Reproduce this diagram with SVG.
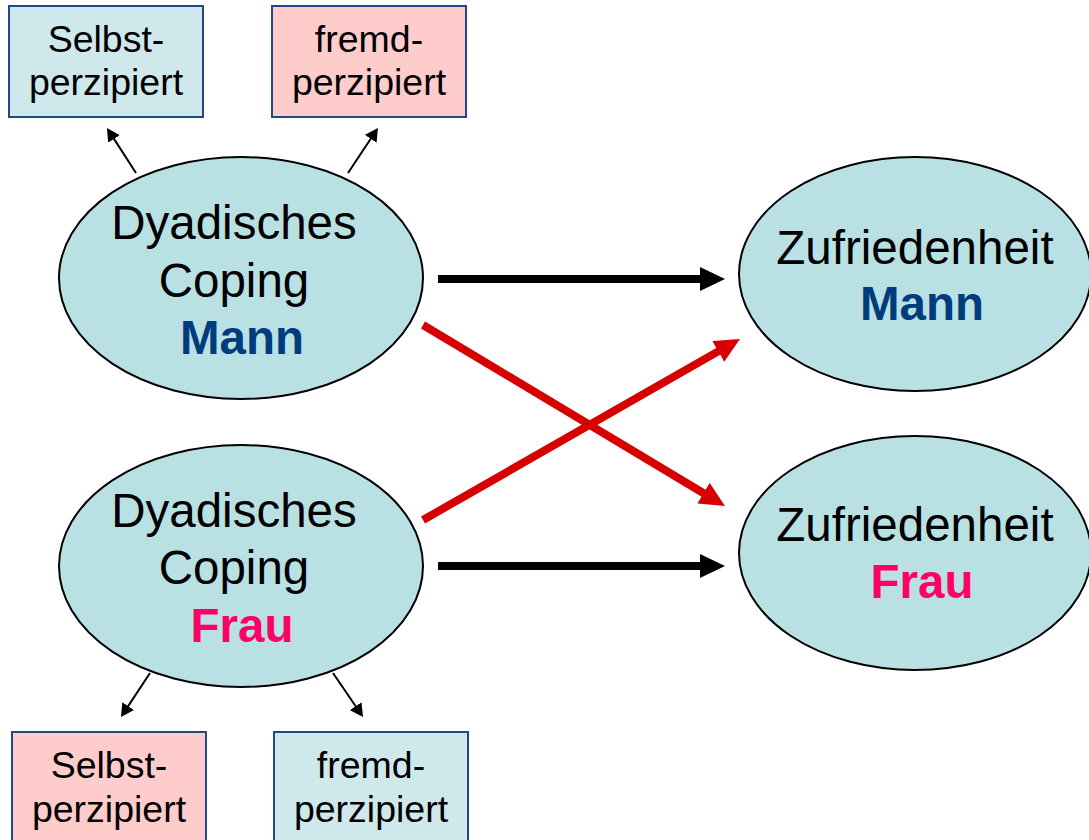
<svg xmlns="http://www.w3.org/2000/svg" width="1089" height="840" viewBox="0 0 1089 840">
<style>
.ell{fill:#b9e0e3;stroke:#000;stroke-width:2}
.boxb{fill:#cfe8eb;stroke:#1f4a85;stroke-width:2}
.boxp{fill:#ffcccc;stroke:#1f4a85;stroke-width:2}
.t{font-family:"Liberation Sans",Arial,sans-serif;text-anchor:middle;fill:#000}
.big{font-size:47.5px}
.sm{font-size:37.5px}
.mann{fill:#003c7d;font-weight:bold}
.frau{fill:#ff0066;font-weight:bold}
.blk{stroke:#000;stroke-width:8;fill:none}
.red{stroke:#d60000;stroke-width:8;fill:none}
.thin{stroke:#000;stroke-width:2;fill:none}
</style>
<defs>
<marker id="hb" markerUnits="userSpaceOnUse" markerWidth="25" markerHeight="24" refX="5" refY="12" orient="auto"><path d="M0,0 L25,12 L0,24 z" fill="#000"/></marker>
<marker id="hr" markerUnits="userSpaceOnUse" markerWidth="25" markerHeight="24" refX="5" refY="12" orient="auto"><path d="M0,0 L25,12 L0,24 z" fill="#d60000"/></marker>
<marker id="hs" markerUnits="userSpaceOnUse" markerWidth="13" markerHeight="14" refX="3" refY="7" orient="auto"><path d="M0,0 L13,7 L0,14 z" fill="#000"/></marker>
</defs>
<rect width="1089" height="840" fill="#fff"/>
<g id="box-tl"><rect class="boxb" x="9" y="6" width="194" height="111"/><text class="t sm" x="106" y="52">Selbst-</text><text class="t sm" x="106" y="95">perzipiert</text></g>
<g id="box-tr"><rect class="boxp" x="272" y="6" width="194" height="111"/><text class="t sm" x="369" y="52">fremd-</text><text class="t sm" x="369" y="95">perzipiert</text></g>
<g id="box-bl"><rect class="boxp" x="12" y="732" width="194" height="111"/><text class="t sm" x="109" y="778">Selbst-</text><text class="t sm" x="109" y="822">perzipiert</text></g>
<g id="box-br"><rect class="boxb" x="274" y="732" width="194" height="111"/><text class="t sm" x="371" y="778">fremd-</text><text class="t sm" x="371" y="822">perzipiert</text></g>
<g id="dc-mann"><ellipse class="ell" cx="241" cy="278" rx="182" ry="121"/><text class="t big" x="234" y="239">Dyadisches</text><text class="t big" x="234" y="297">Coping</text><text class="t big mann" x="242" y="354">Mann</text></g>
<g id="dc-frau"><ellipse class="ell" cx="241" cy="566" rx="182" ry="121"/><text class="t big" x="234" y="527">Dyadisches</text><text class="t big" x="234" y="584">Coping</text><text class="t big frau" x="242" y="642">Frau</text></g>
<g id="z-mann"><ellipse class="ell" cx="915" cy="274" rx="176" ry="117"/><text class="t big" x="915" y="264">Zufriedenheit</text><text class="t big mann" x="922" y="320">Mann</text></g>
<g id="z-frau"><ellipse class="ell" cx="915" cy="553" rx="176" ry="117"/><text class="t big" x="915" y="541">Zufriedenheit</text><text class="t big frau" x="922" y="598">Frau</text></g>
<g id="connectors">
<line class="blk" x1="438" y1="279" x2="705" y2="279" marker-end="url(#hb)"/>
<line class="blk" x1="438" y1="566" x2="705" y2="566" marker-end="url(#hb)"/>
<line class="red" x1="423" y1="325" x2="707.8" y2="495.7" marker-end="url(#hr)"/>
<line class="red" x1="423" y1="520" x2="722.6" y2="348.9" marker-end="url(#hr)"/>
<line class="thin" x1="136" y1="173" x2="112.4" y2="136.4" marker-end="url(#hs)"/>
<line class="thin" x1="348" y1="173" x2="372.4" y2="136.3" marker-end="url(#hs)"/>
<line class="thin" x1="150" y1="673" x2="126.5" y2="708.6" marker-end="url(#hs)"/>
<line class="thin" x1="333" y1="673" x2="357.4" y2="708.7" marker-end="url(#hs)"/>
</g>
</svg>
